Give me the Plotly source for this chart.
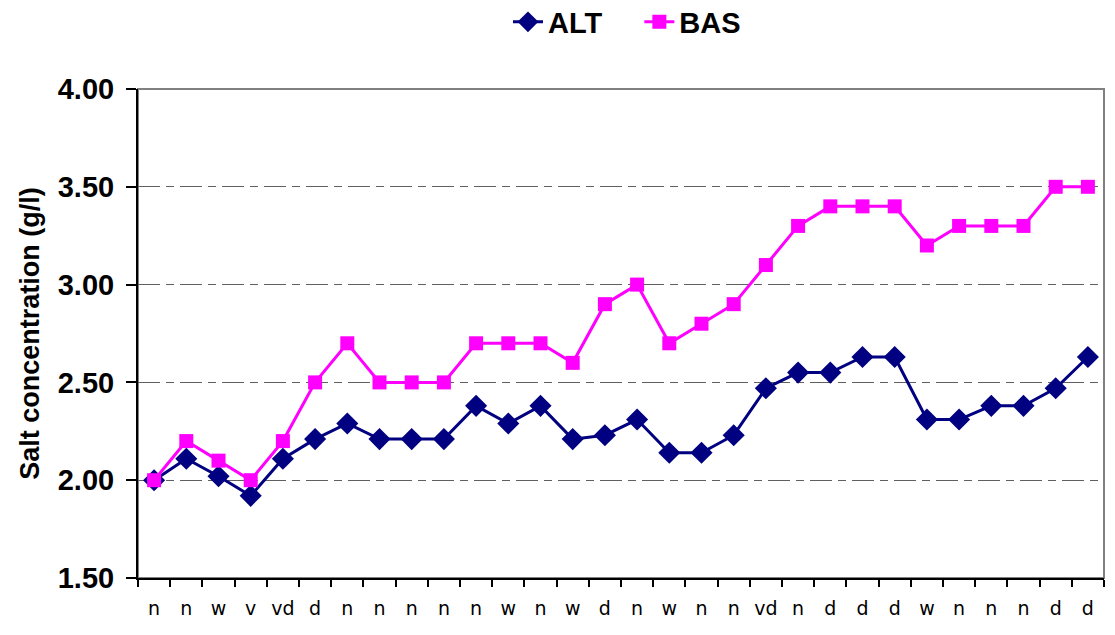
import plotly.graph_objects as go

categories = ["n", "n", "w", "v", "vd", "d", "n", "n", "n", "n",
              "n", "w", "n", "w", "d", "n", "w", "n", "n", "vd",
              "n", "d", "d", "d", "w", "n", "n", "n", "d", "d"]
alt_values = [2.00, 2.11, 2.02, 1.92, 2.11, 2.21, 2.29, 2.21, 2.21, 2.21,
              2.38, 2.29, 2.38, 2.21, 2.23, 2.31, 2.14, 2.14, 2.23, 2.47,
              2.55, 2.55, 2.63, 2.63, 2.31, 2.31, 2.38, 2.38, 2.47, 2.63]
bas_values = [2.00, 2.20, 2.10, 2.00, 2.20, 2.50, 2.70, 2.50, 2.50, 2.50,
              2.70, 2.70, 2.70, 2.60, 2.90, 3.00, 2.70, 2.80, 2.90, 3.10,
              3.30, 3.40, 3.40, 3.40, 3.20, 3.30, 3.30, 3.30, 3.50, 3.50]
y_ticks = [1.50, 2.00, 2.50, 3.00, 3.50, 4.00]

x = list(range(len(categories)))
bold = "Liberation Sans"
legend_font = dict(family=bold, size=29, color="black", weight="bold")

fig = go.Figure()
fig.add_trace(go.Scatter(
    x=x, y=alt_values, name="ALT", mode="lines+markers", legend="legend",
    line=dict(color="#000080", width=3),
    marker=dict(symbol="diamond", size=17, color="#000080"),
))
fig.add_trace(go.Scatter(
    x=x, y=bas_values, name="BAS", mode="lines+markers", legend="legend2",
    line=dict(color="#FF00FF", width=3),
    marker=dict(symbol="square", size=14, color="#FF00FF"),
))

# plot area border (gray)
fig.add_shape(type="rect", xref="paper", yref="paper", x0=0, x1=1, y0=0, y1=1,
              line=dict(color="#808080", width=2), layer="below")

fig.update_layout(
    width=1115, height=635,
    margin=dict(l=130, r=19, t=81, b=65),
    paper_bgcolor="white", plot_bgcolor="white",
    showlegend=True,
    legend=dict(orientation="h", x=0.383, xanchor="left", y=0.978, yref="container",
                yanchor="middle", font=legend_font),
    legend2=dict(orientation="h", x=0.519, xanchor="left", y=0.978, yref="container",
                 yanchor="middle", font=legend_font),
    xaxis=dict(
        range=[-0.5, len(categories) - 0.5],
        tickmode="array", tickvals=x, ticktext=categories,
        ticks="", showgrid=False, zeroline=False,
        showline=True, linecolor="black", linewidth=2,
        tickfont=dict(family="DejaVu Sans", size=19, color="black"),
        ticklabelstandoff=12,
        minor=dict(tickmode="array", tickvals=[i - 0.5 for i in range(len(categories) + 1)],
                   ticks="outside", ticklen=7, tickwidth=2, tickcolor="black", showgrid=False),
    ),
    yaxis=dict(
        range=[1.5, 4.0], automargin=False,
        tickmode="array", tickvals=y_ticks, tickformat=".2f",
        ticks="outside", ticklen=10, tickwidth=2, tickcolor="black",
        showline=True, linecolor="black", linewidth=2,
        showgrid=True, gridcolor="#606060", gridwidth=1, griddash="22px,6px,8px,6px",
        zeroline=False,
        tickfont=dict(family=bold, size=29, color="black", weight="bold"),
        ticklabelstandoff=6,
        title=dict(text="Salt concentration (g/l)", standoff=10,
                   font=dict(family=bold, size=27, color="black", weight="bold")),
    ),
)

fig.write_html("out.html")
